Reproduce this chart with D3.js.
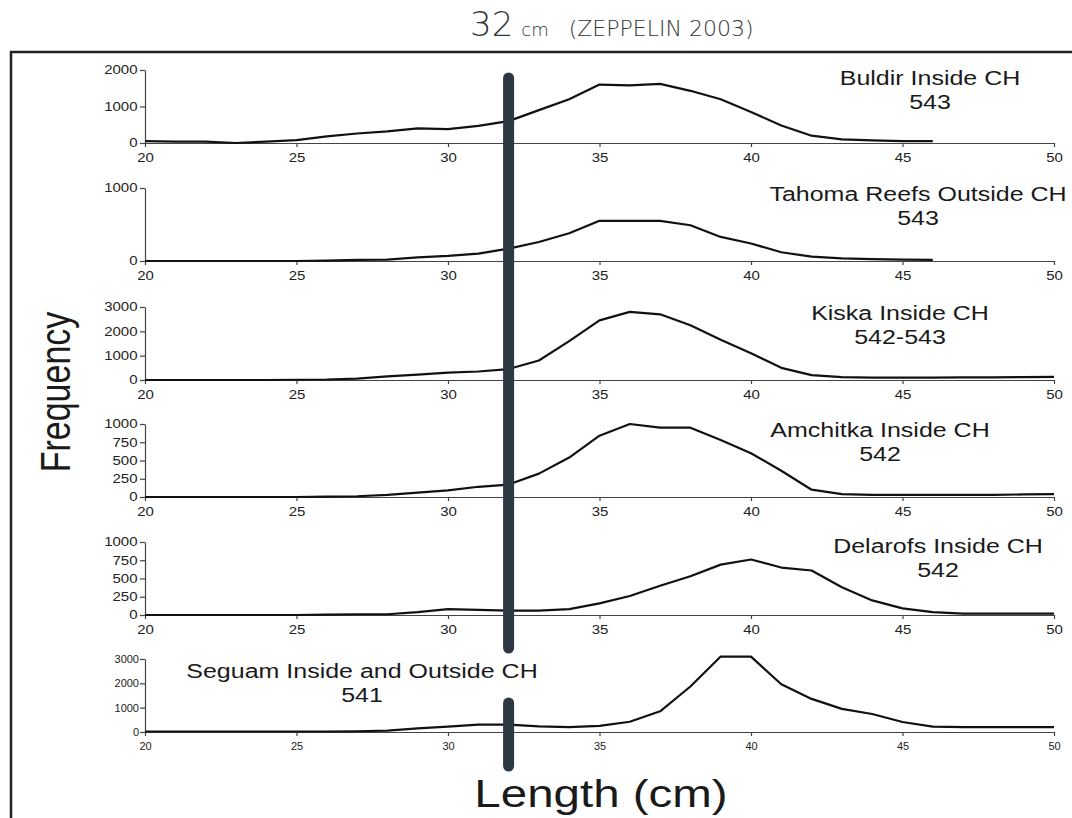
<!DOCTYPE html>
<html>
<head>
<meta charset="utf-8">
<script src="https://cdn.jsdelivr.net/npm/d3@7/dist/d3.min.js"></script>
<style>
  body { margin: 0; background: #fff; }
  text { font-family: "Liberation Sans", Arial, sans-serif; }
</style>
</head>
<body>
<div id="chart"></div>
<script>
// length classes (cm)
var lengths = [20,21,22,23,24,25,26,27,28,29,30,31,32,33,34,35,36,37,38,39,40,41,42,43,44,45,46,47,48,49,50];

// frequency per length
var buldir   = [50,40,40,0,40,80,180,260,320,400,380,470,600,900,1200,1600,1580,1620,1430,1200,850,480,200,100,70,50,50];
var tahoma   = [0,0,0,0,0,0,5,15,20,50,70,100,170,260,380,550,550,550,490,330,240,120,60,35,25,20,15];
var kiska    = [0,0,0,0,0,10,20,60,150,220,300,350,450,800,1600,2450,2800,2700,2250,1650,1100,500,200,120,100,100,100,110,110,120,130];
var amchitka = [0,0,0,0,0,0,5,10,30,60,90,140,170,320,540,840,1000,950,950,780,600,360,100,40,30,30,30,30,30,35,40];
var delarofs = [0,0,0,0,0,0,5,10,10,40,80,70,60,60,80,160,260,400,530,690,760,650,610,380,200,90,40,20,20,20,20];
var seguam   = [20,20,20,20,20,20,20,30,60,150,220,300,300,230,200,250,420,850,1870,3100,3100,1960,1360,950,740,410,220,200,200,200,200];

var series = [buldir, tahoma, kiska, amchitka, delarofs, seguam];
var panelNames = ["Buldir Inside CH", "Tahoma Reefs Outside CH", "Kiska Inside CH", "Amchitka Inside CH", "Delarofs Inside CH", "Seguam Inside and Outside CH"];
var panelAreas = ["543", "543", "542-543", "542", "542", "541"];
var panelMax = [2000, 1000, 3000, 1000, 1000, 3000];
var panelTicks = [
  [0, 1000, 2000],
  [0, 1000],
  [0, 1000, 2000, 3000],
  [0, 250, 500, 750, 1000],
  [0, 250, 500, 750, 1000],
  [0, 1000, 2000, 3000]
];
var xTicks = [20, 25, 30, 35, 40, 45, 50];
var markLength = 32;

// layout
var W = 1072, H = 818;
var left = 145, right = 1054;
var baselines = [143, 261, 380, 497, 615, 732];
var panelH = 73;
var titlePos = [[930, 85], [918, 201], [900, 320], [880, 437], [938, 553], [362, 678]];
var stretch = 1.25;

var svg = d3.select("#chart").append("svg")
  .attr("width", W)
  .attr("height", H);

svg.append("rect").attr("width", W).attr("height", H).attr("fill", "#fff");

// scanned page frame
svg.append("path")
  .attr("d", "M11," + H + "V52H" + W)
  .attr("fill", "none")
  .attr("stroke", "#222")
  .attr("stroke-width", 2.5);

// handwritten note
var note = svg.append("text")
  .attr("x", 470).attr("y", 36)
  .attr("fill", "#333")
  .style("font-family", "'DejaVu Sans', sans-serif")
  .style("font-weight", "200");
note.append("tspan").attr("font-size", 34).text("32");
note.append("tspan").attr("font-size", 18).attr("dx", 8).text("cm");
note.append("tspan").attr("font-size", 22).attr("dx", 20).text("(ZEPPELIN 2003)");

var x = d3.scaleLinear().domain([20, 50]).range([left, right]);

series.forEach(function (vals, i) {
  var y = d3.scaleLinear().domain([0, panelMax[i]]).range([baselines[i], baselines[i] - panelH]);
  var g = svg.append("g");

  var yAxis = g.append("g")
    .attr("transform", "translate(" + left + ",0)")
    .call(d3.axisLeft(y).tickValues(panelTicks[i]).tickFormat(d3.format("d")).tickSize(5).tickSizeOuter(0));
  yAxis.selectAll("text")
    .attr("font-size", i == 5 ? 11 : 12)
    .attr("fill", "#222")
    .attr("x", -6)
    .attr("transform", i == 5 ? null : "scale(" + stretch + ",1)");

  var xAxis = g.append("g")
    .attr("transform", "translate(0," + baselines[i] + ")")
    .call(d3.axisBottom(x).tickValues(xTicks).tickSize(4).tickSizeOuter(0));
  xAxis.selectAll("text")
    .attr("font-size", i == 5 ? 11 : 12)
    .attr("fill", "#222")
    .attr("y", 10)
    .attr("transform", i == 5 ? null : "scale(" + stretch + ",1)");

  g.selectAll(".domain, .tick line").attr("stroke", "#444").attr("stroke-width", 1.2);

  var line = d3.line()
    .x(function (d, j) { return x(lengths[j]); })
    .y(function (d) { return y(d); });

  g.append("path")
    .datum(vals)
    .attr("d", line)
    .attr("fill", "none")
    .attr("stroke", "#111")
    .attr("stroke-width", 2.2)
    .attr("stroke-linejoin", "round");

  var t = g.append("g")
    .attr("transform", "translate(" + titlePos[i][0] + "," + titlePos[i][1] + ") scale(" + stretch + ",1)");
  t.append("text")
    .attr("text-anchor", "middle")
    .attr("font-size", 20)
    .attr("fill", "#1a1a1a")
    .text(panelNames[i]);
  t.append("text")
    .attr("text-anchor", "middle")
    .attr("y", 24)
    .attr("font-size", 20)
    .attr("fill", "#1a1a1a")
    .text(panelAreas[i]);
});

// hand-drawn marker at 32 cm
svg.append("path")
  .attr("d", "M" + x(markLength) + ",78V648M" + x(markLength) + ",703V766")
  .attr("stroke", "#2d3843")
  .attr("stroke-width", 11)
  .attr("stroke-linecap", "round");

// axis titles
svg.append("text")
  .attr("transform", "translate(70,392) scale(" + stretch + ",1) rotate(-90)")
  .attr("text-anchor", "middle")
  .attr("font-size", 34)
  .attr("fill", "#1a1a1a")
  .text("Frequency");

svg.append("text")
  .attr("transform", "translate(601,807) scale(" + stretch + ",1)")
  .attr("text-anchor", "middle")
  .attr("font-size", 38)
  .attr("fill", "#1a1a1a")
  .text("Length (cm)");
</script>
</body>
</html>
